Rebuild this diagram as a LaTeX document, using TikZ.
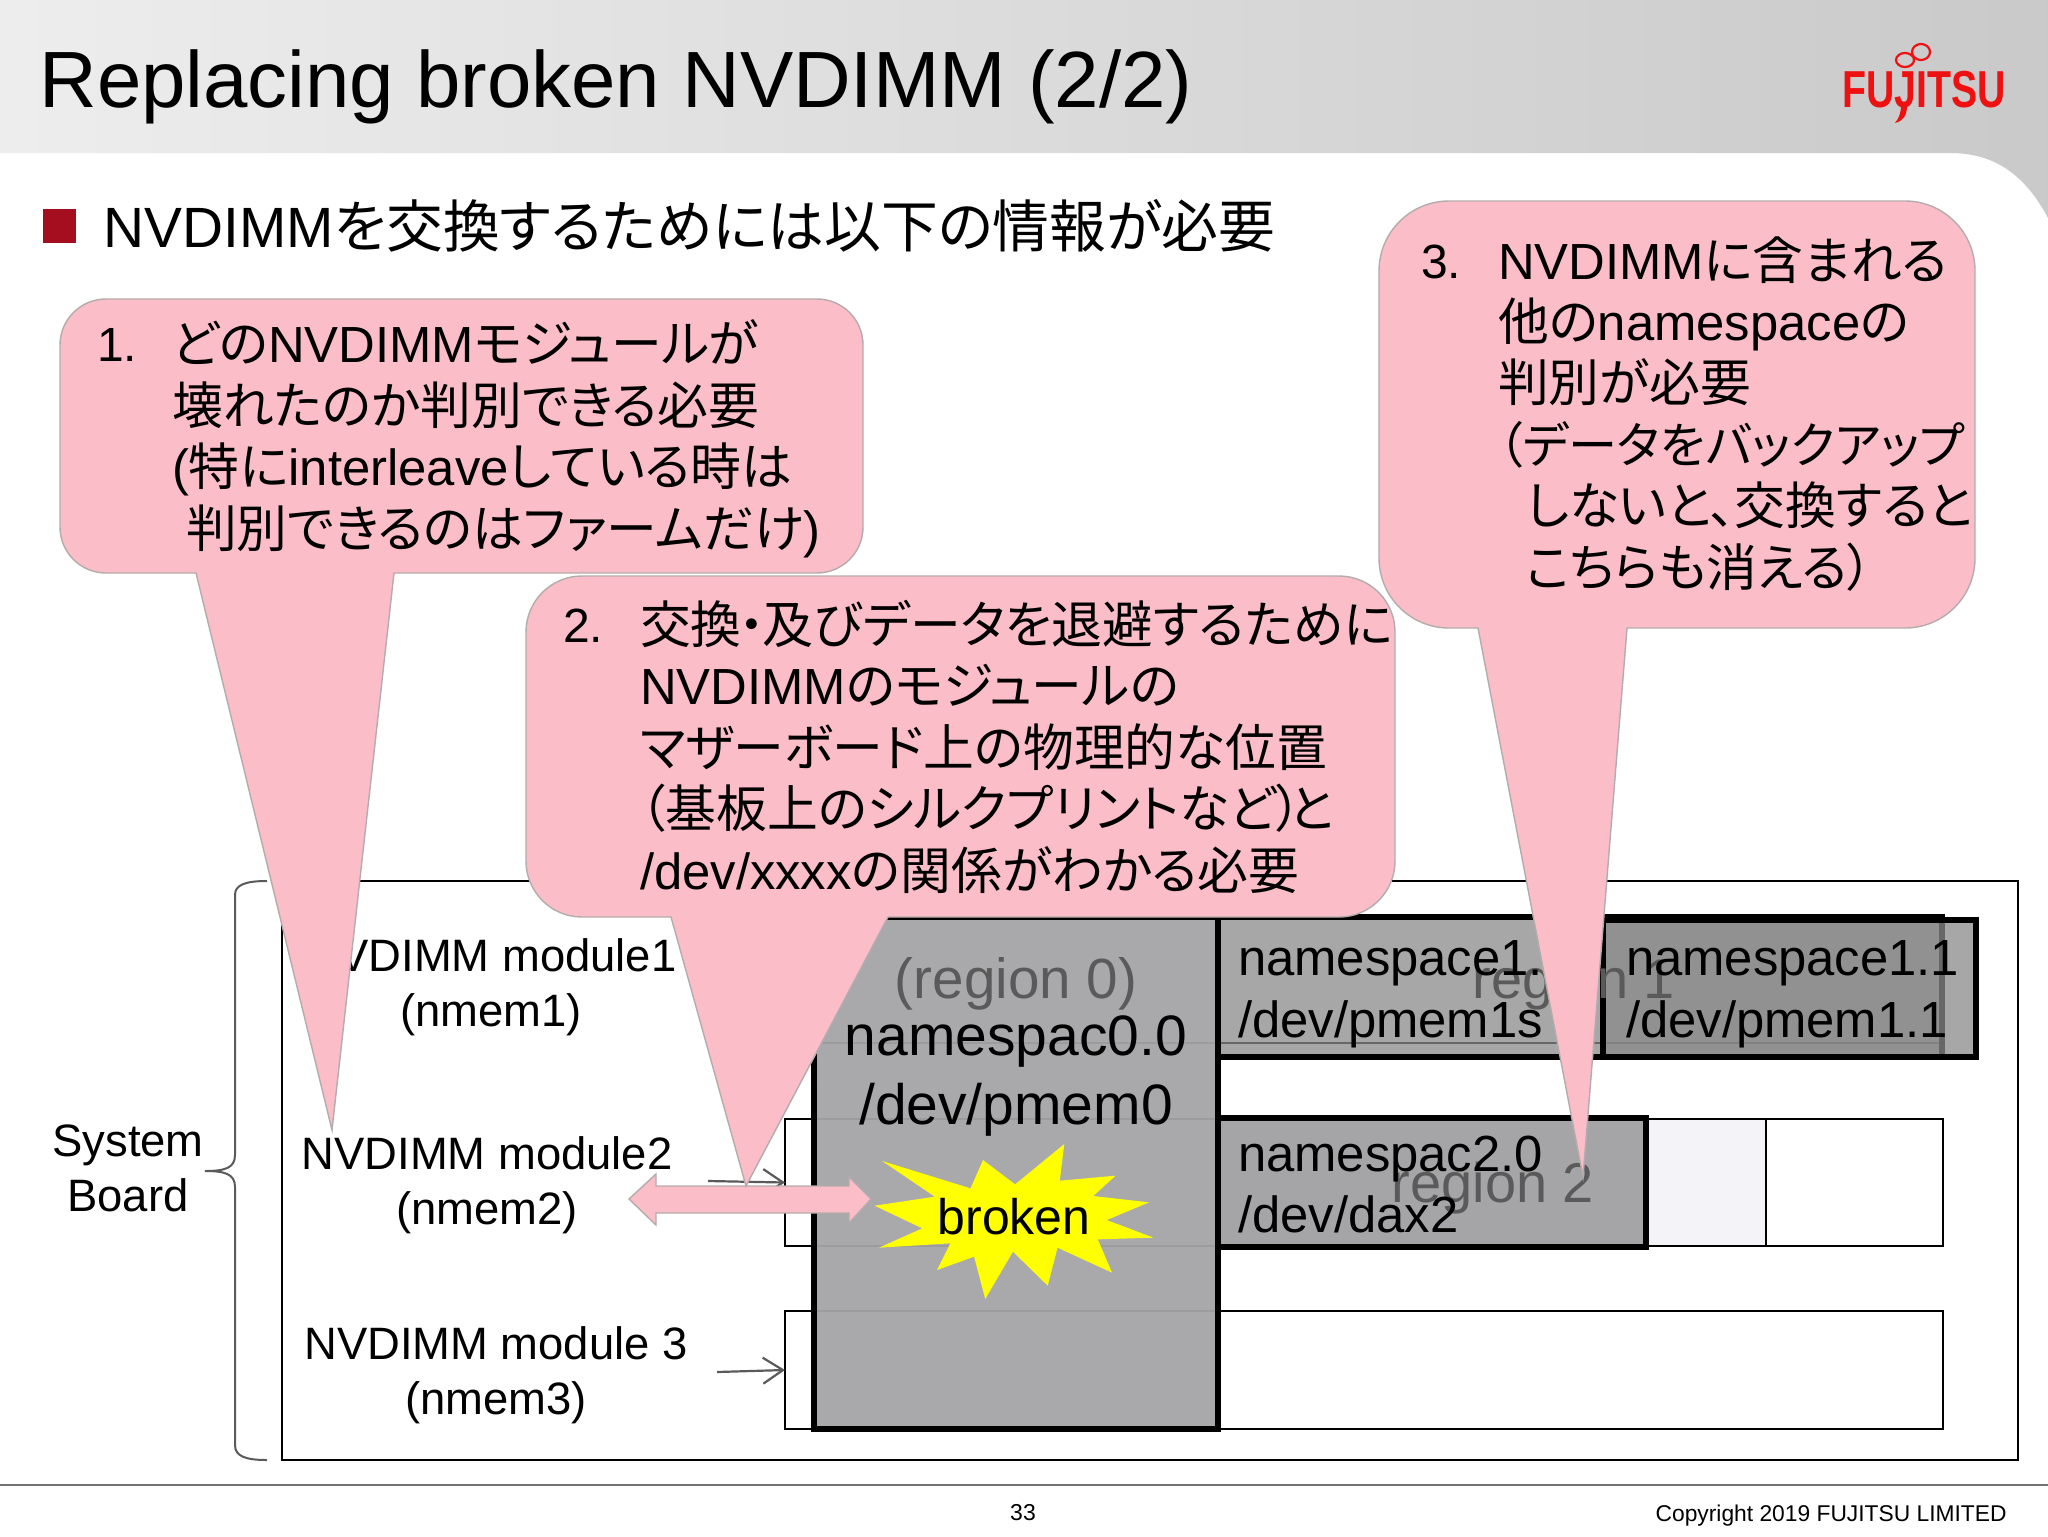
\documentclass[tikz,border=0pt]{standalone}
\usepackage{fontspec}
\usetikzlibrary{arrows.meta}
\setmainfont{Liberation Sans}
\newfontfamily\jp[RawFeature=+palt]{Noto Sans CJK JP}
\newcommand{\lat}[1]{{\rmfamily #1}}
\definecolor{pinkc}{HTML}{FBBEC8}
\definecolor{pinke}{HTML}{B4ACAC}
\definecolor{regc}{HTML}{A5A5A7}
\definecolor{greyt}{HTML}{5A5A5A}
\definecolor{bulc}{HTML}{A50E1E}
\definecolor{fjred}{HTML}{EE1111}
\definecolor{starc}{HTML}{FFFF00}
\definecolor{freec}{HTML}{F4F4F8}
\tikzset{
 callout/.style={fill=pinkc,draw=pinke,line width=.7pt},
 cjk/.style={inner sep=0pt,outer sep=0pt,anchor=base west,align=left,font=\jp\fontsize{25.4}{30.7}\selectfont},
 num/.style={inner sep=0pt,outer sep=0pt,anchor=base west,font=\fontsize{24}{30.7}\selectfont},
 lab/.style={inner sep=0pt,outer sep=0pt,align=center,font=\fontsize{22.7}{28}\selectfont},
 ns/.style={inner sep=0pt,outer sep=0pt,anchor=base west,font=\fontsize{25.4}{30}\selectfont},
 reg/.style={inner sep=0pt,outer sep=0pt,text=greyt,font=\fontsize{28}{30}\selectfont},
 rowbox/.style={draw=black,line width=.7pt,fill=white,outer sep=0pt},
 regbox/.style={draw=black,line width=3pt,fill=regc,outer sep=0pt},
 small/.style={-{Straight Barb[length=10pt,width=13pt]},draw=greyt,line width=1.1pt},
}
\begin{document}
\begin{tikzpicture}[x=.5pt,y=-.5pt]
\useasboundingbox (0,0) rectangle (2048,1536);
\fill[white] (0,0) rectangle (2048,1536);
% header
\shade[left color=black!7,right color=black!21]
 (0,0) -- (2048,0) -- (2048,218) .. controls (2025,175) and (1995,153) .. (1950,153) -- (0,153) -- cycle;
\node[inner sep=0pt,anchor=base west,font=\fontsize{39.9}{48}\selectfont] (title) at (39,108) {Replacing broken NVDIMM (2/2)};
% logo
\node[inner sep=0pt,anchor=base west,text=fjred,xscale=.755,transform shape,font=\bfseries\fontsize{26}{30}\selectfont] (logo) at (1842,108) {FUJITSU};
\draw[fjred,line width=1.1pt] (1905,60) ellipse [x radius=9,y radius=7];
\draw[fjred,line width=1.1pt] (1921,52) ellipse [x radius=9,y radius=8];
\fill[fjred] (1901,105) -- (1907,105) .. controls (1907,116) and (1903,121) .. (1895,123) .. controls (1899,118) and (1901,113) .. (1901,105) -- cycle;
% bullet
\fill[bulc] (43,209) rectangle (76,243);
\node[inner sep=0pt,anchor=base west,font=\jp\fontsize{28.4}{34}\selectfont] (bullet) at (103,247) {\lat{NVDIMM}を交換するためには以下の情報が必要};
% board
\node[draw=black,line width=.9pt,outer sep=0pt,inner sep=0pt,minimum width=868pt,minimum height=289.5pt,anchor=north west] (board) at (282,881) {};
\draw[greyt,line width=1pt] (267,881) .. controls (245,881) and (235,885) .. (235,895) -- (235,1155) .. controls (235,1168) and (225,1171) .. (205,1171) .. controls (225,1171) and (235,1174) .. (235,1187) -- (235,1445) .. controls (235,1456) and (245,1460) .. (267,1460);
% rows
\node[rowbox,inner sep=0pt,minimum width=579pt,minimum height=62.5pt,anchor=north west] (rowa) at (785,918) {};
\node[rowbox,inner sep=0pt,minimum width=579pt,minimum height=63.5pt,anchor=north west] (rowb) at (785,1119) {};
\node[rowbox,inner sep=0pt,minimum width=579pt,minimum height=59pt,anchor=north west] (rowc) at (785,1311) {};
\node[rowbox,fill=freec,inner sep=0pt,minimum width=60pt,minimum height=63.5pt,anchor=north west] (rowbfree) at (1646,1119) {};
% small arrows
\coordinate (sa) at (708,1181);
\coordinate (sc) at (717,1372);
\draw[small] (sa) -- (rowb.west);
\draw[small] (sc) -- (rowc.west);
% regions
\node[regbox,fill opacity=.95,inner sep=0pt,minimum width=202pt,minimum height=256pt,anchor=north west] (regA) at (814,917) {};
\node[regbox,fill=black!46,fill opacity=.75,inner sep=0pt,minimum width=362pt,minimum height=70pt,anchor=north west] (regB) at (1218,917) {};
\node[regbox,fill=black!46,fill opacity=.75,inner sep=0pt,minimum width=186.5pt,minimum height=68.5pt,anchor=north west] (regBb) at (1603,920) {};
\node[regbox,fill=regc,inner sep=0pt,minimum width=214pt,minimum height=64.5pt,anchor=north west] (regC) at (1218,1118) {};
% region texts
\node[reg,font=\fontsize{28.3}{32}\selectfont] (r0) at (1016,984) {(region 0)};
\node[inner sep=0pt,font=\fontsize{28.5}{30}\selectfont] (n0) at (1016,1041) {namespac0.0};
\node[inner sep=0pt,font=\fontsize{28.5}{30}\selectfont] (d0) at (1016,1110) {/dev/pmem0};
\node[reg] (r1) at (1574,984) {region 1};
\node[reg] (r2) at (1493,1188) {region 2};
\node[ns] (n1a) at (1238,975) {namespace1.0};
\node[ns] (d1a) at (1238,1037) {/dev/pmem1s};
\node[ns] (n1b) at (1626,975) {namespace1.1};
\node[ns] (d1b) at (1626,1037) {/dev/pmem1.1};
\node[ns] (n2) at (1238,1171) {namespac2.0};
\node[ns] (d2) at (1238,1232) {/dev/dax2};
% star
\begin{scope}[shift={(600,1080)},x=.2232pt,y=-.16667pt]
\fill[starc] (632,243)--(830,325)--(858,240)--(930,313)--(1040,192)--(1030,302)--(1155,287)--(1105,348)--(1230,367)--(1135,420)--(1240,473)--(1115,478)--(1147,578)--(1025,503)--(1003,617)--(925,515)--(863,657)--(838,530)--(755,570)--(785,490)--(625,503)--(722,445)--(615,377)--(750,350)--cycle;
\end{scope}
\node[inner sep=0pt,font=\fontsize{25}{30}\selectfont] (brk) at (1014,1217) {broken};
% module labels
\node[lab] (m1) at (491,987) {NVDIMM module1\\[-.5pt](nmem1)};
\node[lab] (m2) at (487,1185) {NVDIMM module2\\[-.5pt](nmem2)};
\node[lab] (m3) at (496,1375) {NVDIMM module 3\\[-.5pt](nmem3)};
\node[lab] (sb) at (128,1168) {System\\[-.5pt]Board};
% double arrow
\draw[callout] (629,1199)--(656,1174)--(656,1186)--(849,1186)--(849,1177)--(871,1199)--(849,1223)--(849,1213)--(656,1213)--(656,1225)--cycle;
% callouts
\draw[callout] (196,573) [rounded corners=23pt] -- (60,573) -- (60,299) -- (863,299) -- (863,573) [sharp corners] -- (394,573) -- (332,1130) -- cycle;
\draw[callout] (671,917) [rounded corners=28pt] -- (526,917) -- (526,576) -- (1395,576) -- (1395,917) [sharp corners] -- (888,917) -- (746,1186) -- cycle;
\draw[callout] (1478,628) [rounded corners=35pt] -- (1379,628) -- (1379,201) -- (1975,201) -- (1975,628) [sharp corners] -- (1627,628) -- (1583,1177) -- cycle;
% callout texts
\node[num] (c1n) at (97,361) {1.};
\node[cjk] (c1t) at (172,547) {どの\lat{NVDIMM}モジュールが\\壊れたのか判別できる必要\\\lat{(}特に\lat{interleave}している時は\\\hspace*{7pt}判別できるのはファームだけ\lat{)}};
\node[num] (c2n) at (563,642) {2.};
\node[cjk] (c2t) at (640,889) {交換\kern-.04em・\kern-.04em及びデータを退避するために\\\lat{NVDIMM}のモジュールの\\マザーボード上の物理的な位置\\（基板上のシルクプリントなど）\kern-.25emと\\\lat{/dev/xxxx}の関係がわかる必要};
\node[num] (c3n) at (1421,278) {3.};
\node[cjk] (c3t) at (1498,586) {\lat{NVDIMM}に含まれる\\他の\lat{namespace}の\\判別が必要\\{\fontsize{24.6}{30.7}\selectfont （データをバックアップ}\\\hspace*{14pt}しないと、交換すると\\\hspace*{14pt}こちらも消える）};
% footer
\draw[black!55,line width=.9pt] (0,1485) -- (2048,1485);
\node[inner sep=0pt,font=\fontsize{11.5}{13}\selectfont] (pg) at (1023,1513) {33};
\node[inner sep=0pt,anchor=east,font=\fontsize{11.4}{13}\selectfont] (copy) at (2007,1516) {Copyright 2019 FUJITSU LIMITED};
\end{tikzpicture}
\end{document}
